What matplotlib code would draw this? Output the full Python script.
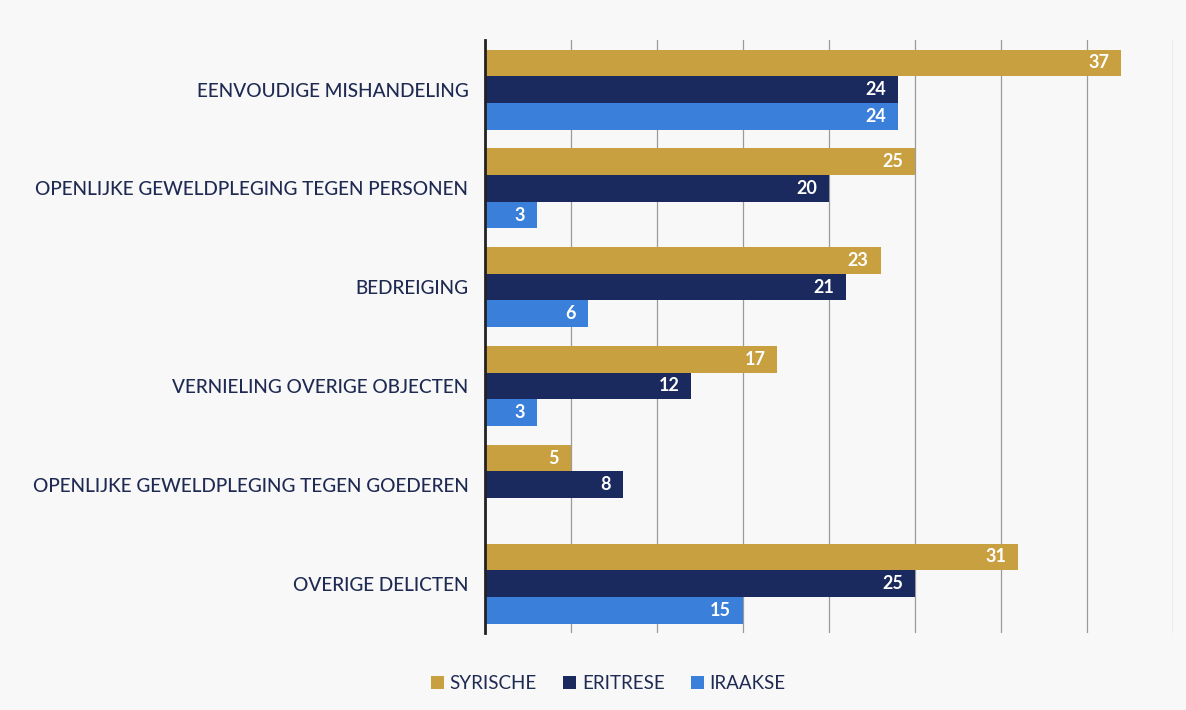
import numpy as np
import matplotlib.pyplot as plt

# data
categories = ['EENVOUDIGE MISHANDELING',
              'OPENLIJKE GEWELDPLEGING TEGEN PERSONEN',
              'BEDREIGING',
              'VERNIELING OVERIGE OBJECTEN',
              'OPENLIJKE GEWELDPLEGING TEGEN GOEDEREN',
              'OVERIGE DELICTEN']
syrische = [37, 25, 23, 17, 5, 31]
eritrese = [24, 20, 21, 12, 8, 25]
iraakse = [24, 3, 6, 3, 0, 15]
series_names = ['SYRISCHE', 'ERITRESE', 'IRAAKSE']
colors = ['#C9A03F', '#1B2A5E', '#3A80DA']

plt.rcParams['font.family'] = ['Lato', 'DejaVu Sans']
txt_color = '#1F2A52'

fig = plt.figure(figsize=(11.86, 7.10), dpi=100)
fig.patch.set_facecolor('#F8F8F9')
ax = fig.add_axes([0.409, 0.1085, 0.580, 0.835])
ax.set_facecolor('#F8F8F9')

y = np.arange(len(categories))
h = 0.27
for i, (vals, name, c) in enumerate(zip([syrische, eritrese, iraakse], series_names, colors)):
    pos = y - h + i * h
    bars = ax.barh(pos, vals, height=h, color=c, label=name, zorder=3)
    for b, v in zip(bars, vals):
        if v == 0:
            continue
        ax.text(v - 0.7, b.get_y() + h / 2, str(v), ha='right', va='center',
                color='white', fontsize=13, fontweight='bold', zorder=4)

ax.set_xlim(0, 40)
ax.set_ylim(len(categories) - 0.5, -0.5)
ax.set_xticks(np.arange(0, 41, 5))
ax.xaxis.grid(True, color='#9A9A9A', linewidth=0.9, zorder=0)
ax.tick_params(axis='x', length=0, labelbottom=False)
ax.tick_params(axis='y', length=0, pad=12)
ax.set_yticks(y)
ax.set_yticklabels(categories, fontsize=13.7, color=txt_color, fontweight='medium')
for s in ['top', 'right', 'bottom']:
    ax.spines[s].set_visible(False)
ax.spines['left'].set_color('#222222')
ax.spines['left'].set_linewidth(2)
ax.spines['left'].set_zorder(5)

fig.legend(loc='center', bbox_to_anchor=(0.513, 0.037), ncol=3, frameon=False,
           fontsize=13.5, handlelength=0.7, handleheight=0.7, handletextpad=0.3,
           columnspacing=1.4, labelcolor=txt_color)

fig.savefig('out.png', dpi=100, facecolor=fig.get_facecolor())
